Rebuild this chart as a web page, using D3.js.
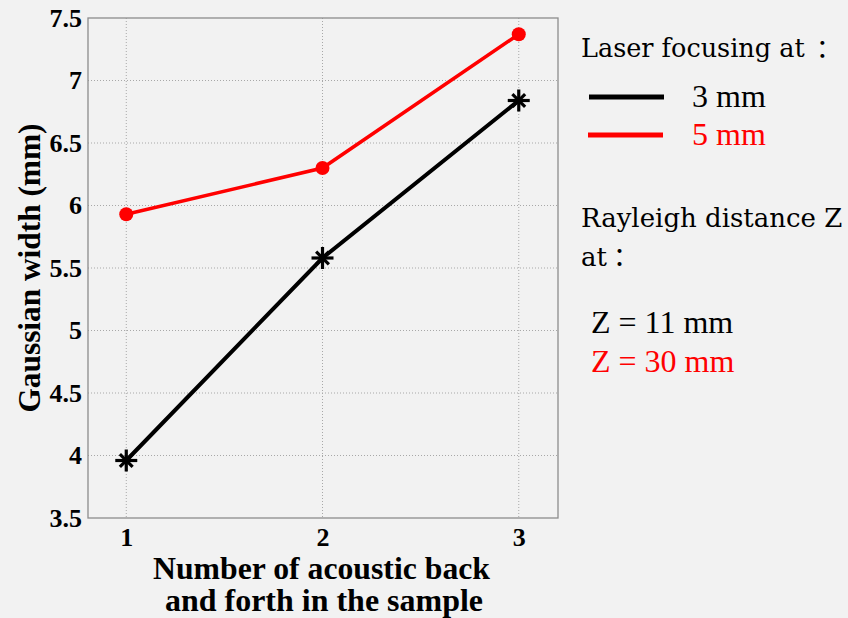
<!DOCTYPE html>
<html>
<head>
<meta charset="utf-8">
<script src="https://cdn.jsdelivr.net/npm/d3@7"></script>
<style>
  html, body { margin: 0; padding: 0; background: #f2f2f2; }
  svg { display: block; }
</style>
</head>
<body>
<svg id="chart" width="848" height="618"></svg>
<script>
// Number of acoustic round trips in the sample
const passes = [1, 2, 3];
// Gaussian width (mm) for each laser focus
const width3mm = [3.96, 5.58, 6.84];
const width5mm = [5.93, 6.30, 7.37];
const yTicks = [3.5, 4, 4.5, 5, 5.5, 6, 6.5, 7, 7.5];
const xTicks = [1, 2, 3];

const svg = d3.select("#chart");
const m = { left: 88, right: 558, top: 18, bottom: 518 };

const x = d3.scaleLinear().domain([0.805, 3.2]).range([m.left, m.right]);
const y = d3.scaleLinear().domain([3.5, 7.5]).range([m.bottom, m.top]);

const serif = "'Liberation Serif', 'Times New Roman', serif";
const noteFont = "'DejaVu Serif', serif";
const cjk = "'Noto Sans CJK SC', sans-serif";

// grid lines
const grid = svg.append("g");
grid.selectAll("line.h").data(yTicks.slice(1, -1)).join("line")
  .attr("x1", m.left).attr("x2", m.right)
  .attr("y1", d => y(d)).attr("y2", d => y(d))
  .attr("stroke", "#a8a8a8").attr("stroke-width", 1).attr("stroke-dasharray", "1,2");
grid.selectAll("line.v").data(xTicks).join("line")
  .attr("y1", m.top).attr("y2", m.bottom)
  .attr("x1", d => x(d)).attr("x2", d => x(d))
  .attr("stroke", "#a8a8a8").attr("stroke-width", 1).attr("stroke-dasharray", "1,2");

// frame
svg.append("rect")
  .attr("x", m.left).attr("y", m.top)
  .attr("width", m.right - m.left).attr("height", m.bottom - m.top)
  .attr("fill", "none").attr("stroke", "#8c8c8c").attr("stroke-width", 1.3);

// axes
const yAxis = svg.append("g").attr("transform", `translate(${m.left},0)`)
  .call(d3.axisLeft(y).tickValues(yTicks).tickSize(0).tickPadding(6).tickFormat(d3.format("")));
const xAxis = svg.append("g").attr("transform", `translate(0,${m.bottom})`)
  .call(d3.axisBottom(x).tickValues(xTicks).tickSize(0).tickPadding(10).tickFormat(d3.format("d")));
[yAxis, xAxis].forEach(a => {
  a.attr("font-size", null).attr("font-family", null);
  a.select(".domain").remove();
  a.selectAll("text").style("font-family", serif).style("font-weight", "bold")
    .style("font-size", "26px").attr("fill", "#000");
});

// series lines
const line = vals => d3.line().x((d, i) => x(passes[i])).y(d => y(d))(vals);
svg.append("path").attr("d", line(width5mm)).attr("fill", "none")
  .attr("stroke", "#ff0000").attr("stroke-width", 3.5);
svg.append("path").attr("d", line(width3mm)).attr("fill", "none")
  .attr("stroke", "#000").attr("stroke-width", 4);

// red dot markers
svg.selectAll("circle.red").data(width5mm).join("circle")
  .attr("cx", (d, i) => x(passes[i])).attr("cy", d => y(d))
  .attr("r", 7).attr("fill", "#ff0000");

// asterisk markers (plus + cross)
const star = svg.append("g");
width3mm.forEach((v, i) => {
  const g = star.append("g").attr("transform", `translate(${x(passes[i])},${y(v)})`);
  const r = 11;
  [0, 45, 90, 135].forEach(a => {
    const t = a * Math.PI / 180;
    const rr = (a % 90 === 0) ? r : r * 0.82;
    g.append("line")
      .attr("x1", -rr * Math.sin(t)).attr("y1", -rr * Math.cos(t))
      .attr("x2", rr * Math.sin(t)).attr("y2", rr * Math.cos(t))
      .attr("stroke", "#000").attr("stroke-width", 3.2);
  });
});

// axis titles
svg.append("text")
  .attr("transform", `translate(40,268) rotate(-90)`)
  .attr("text-anchor", "middle")
  .style("font-family", serif).style("font-weight", "bold").style("font-size", "31px")
  .attr("textLength", 289).attr("lengthAdjust", "spacingAndGlyphs")
  .text("Gaussian width (mm)");
const xTitle = [
  { t: "Number of acoustic back", cx: 321.5, y: 579, len: 337 },
  { t: "and forth in the sample", cx: 324, y: 611, len: 318 }
];
svg.selectAll("text.xtitle").data(xTitle).join("text")
  .attr("x", d => d.cx).attr("y", d => d.y).attr("text-anchor", "middle")
  .style("font-family", serif).style("font-weight", "bold").style("font-size", "31px")
  .attr("textLength", d => d.len).attr("lengthAdjust", "spacingAndGlyphs")
  .text(d => d.t);

// legend and notes
const notes = svg.append("g");
const t1 = notes.append("text").attr("x", 581).attr("y", 57)
  .style("font-family", noteFont).style("font-size", "25.5px");
t1.append("tspan").text("Laser focusing at");
t1.append("tspan").attr("x", 816).style("font-family", cjk).text("：");

notes.append("line").attr("x1", 589).attr("x2", 664).attr("y1", 97).attr("y2", 97)
  .attr("stroke", "#000").attr("stroke-width", 5);
notes.append("line").attr("x1", 588).attr("x2", 663).attr("y1", 135).attr("y2", 135)
  .attr("stroke", "#ff0000").attr("stroke-width", 5);
notes.append("text").attr("x", 692).attr("y", 107)
  .style("font-family", serif).style("font-size", "32px").text("3 mm");
notes.append("text").attr("x", 692).attr("y", 145)
  .style("font-family", serif).style("font-size", "32px")
  .attr("fill", "#ff0000").text("5 mm");

notes.append("text").attr("x", 581).attr("y", 227)
  .style("font-family", noteFont).style("font-size", "26px")
  .text("Rayleigh distance Z");
const t2 = notes.append("text").attr("x", 581).attr("y", 266)
  .style("font-family", noteFont).style("font-size", "26px");
t2.append("tspan").text("at");
t2.append("tspan").attr("x", 613).style("font-family", cjk).text("：");

notes.append("text").attr("x", 591).attr("y", 333)
  .style("font-family", serif).style("font-size", "32px").text("Z = 11 mm");
notes.append("text").attr("x", 591).attr("y", 372)
  .style("font-family", serif).style("font-size", "32px")
  .attr("fill", "#ff0000").text("Z = 30 mm");
</script>
</body>
</html>
